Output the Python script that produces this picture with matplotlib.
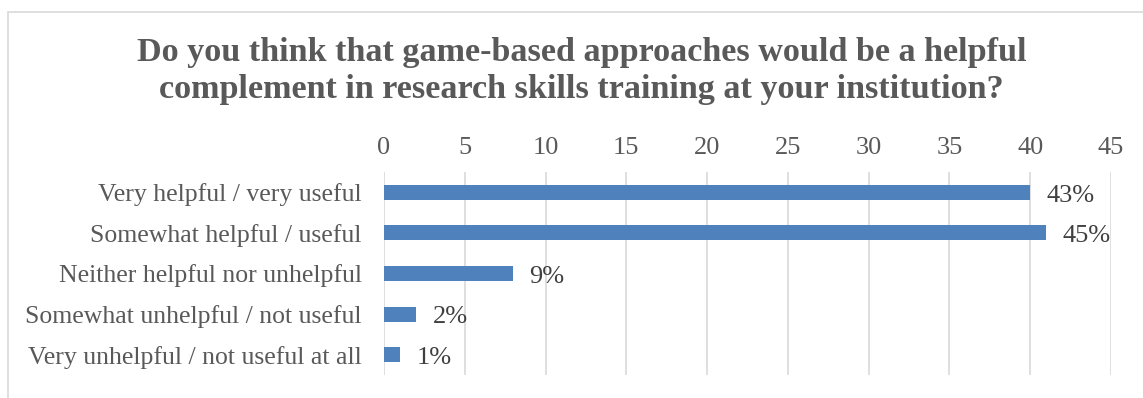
import matplotlib.pyplot as plt
from matplotlib.patches import Rectangle

categories = ["Very helpful / very useful",
              "Somewhat helpful / useful",
              "Neither helpful nor unhelpful",
              "Somewhat unhelpful / not useful",
              "Very unhelpful / not useful at all"]
counts = [40, 41, 8, 2, 1]
pct_labels = ["43%", "45%", "9%", "2%", "1%"]
xticks = [0, 5, 10, 15, 20, 25, 30, 35, 40, 45]

plt.rcParams['font.family'] = ['Liberation Serif', 'DejaVu Serif']

fig = plt.figure(figsize=(11.43, 3.98), dpi=100)
# chart frame
fig.patches.append(Rectangle((8/1143, -0.1), 1.2, 0.1 + 1 - 12/398, transform=fig.transFigure,
                             fill=False, edgecolor='#d9d9d9', linewidth=1.2))

ax = fig.add_axes([384/1143, 1 - 375/398, 727/1143, 203/398])
y = list(range(len(categories)))
ax.barh(y, counts, height=0.37, color='#4f81bd', zorder=3)
for yi, c, lab in zip(y, counts, pct_labels):
    ax.text(c + 1.0, yi + 0.08, lab, va='center', ha='left', fontsize=19, color='#404040')

ax.set_xlim(0, 45)
ax.set_ylim(len(categories) - 0.5, -0.5)
ax.set_xticks(xticks)
ax.set_yticks(y)
ax.set_yticklabels(categories)
ax.xaxis.tick_top()
ax.tick_params(axis='x', length=0, pad=9, labelsize=19, labelcolor='#595959')
ax.tick_params(axis='y', length=0, pad=16, labelsize=18.5, labelcolor='#595959')
ax.grid(axis='x', color='#d9d9d9', linewidth=1.2, zorder=0)
for s in ax.spines.values():
    s.set_visible(False)

fig.text(0.509, 1 - 71/398, "Do you think that game-based approaches would be a helpful\ncomplement in research skills training at your institution?",
         ha='center', va='center', fontsize=24.6, fontweight='bold', color='#595959', linespacing=1.25)

fig.savefig('out.png')
